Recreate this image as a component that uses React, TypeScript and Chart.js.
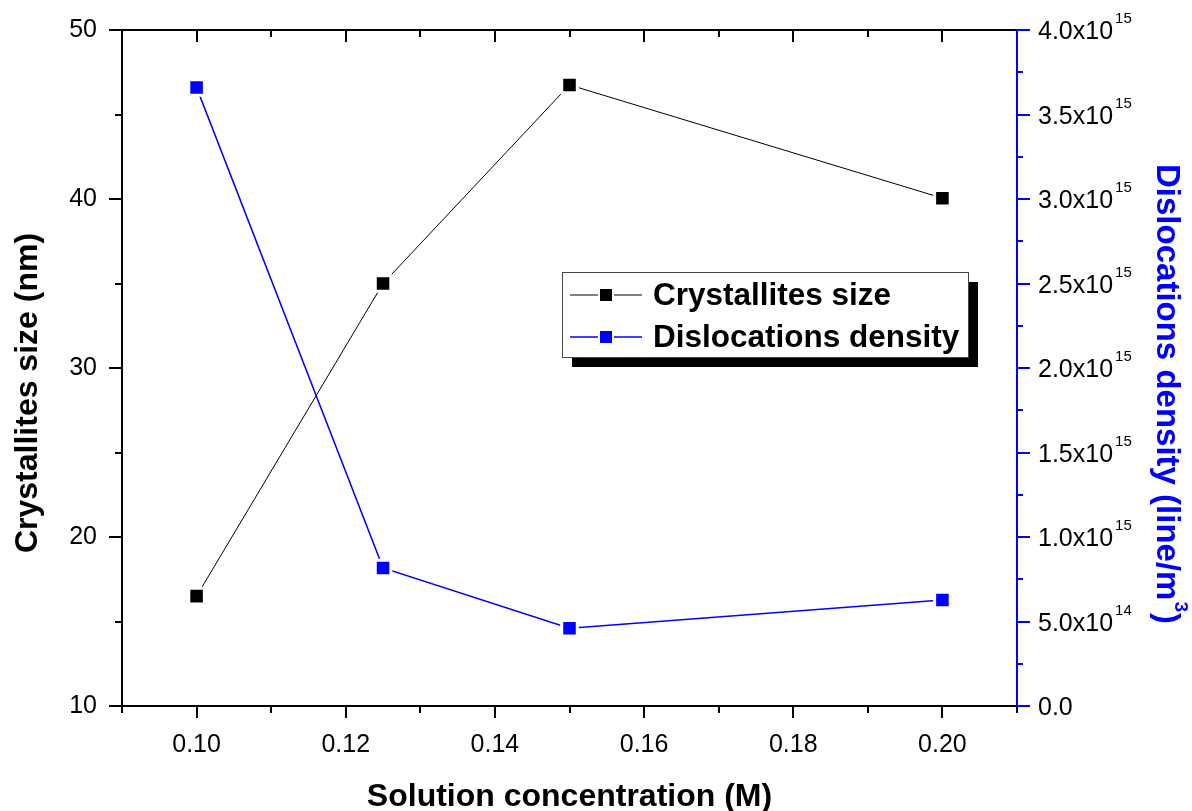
import React, { useEffect, useRef } from 'react';
import { Chart, registerables } from 'chart.js';

Chart.register(...registerables);

const concentrations = [0.10, 0.125, 0.15, 0.20];
const crystalliteSize = [16.5, 35.0, 46.75, 40.05];
const dislocationDensity = [3.66e15, 0.817e15, 0.46e15, 0.627e15];
const seriesLabels = ['Crystallites size', 'Dislocations density'];
const seriesColors = ['#000000', '#0000ff'];
const xTitle = 'Solution concentration (M)';
const yTitle = 'Crystallites size (nm)';
const y1TitleMain = 'Dislocations density (line/m';
const y1TitleSup = '3';
const y1TitleEnd = ')';

const FONT = "'Liberation Sans', Arial, Helvetica, sans-serif";

function fmtSci(v: number): [string, string] {
  if (Math.abs(v) < 1) return ['0.0', ''];
  const e = Math.floor(Math.log10(v) + 1e-9);
  const m = v / Math.pow(10, e);
  return [m.toFixed(1) + 'x10', String(e)];
}

const decorPlugin = {
  id: 'decor',
  afterDraw(chart: any) {
    const { ctx, chartArea } = chart;
    const { left, right, top, bottom } = chartArea;
    const x = chart.scales.x;
    const y = chart.scales.y;
    const y1 = chart.scales.y1;
    ctx.save();
    ctx.lineCap = 'butt';
    ctx.lineWidth = 2;
    ctx.strokeStyle = '#000';
    x.ticks.forEach((t: any) => {
      const px = Math.round(x.getPixelForValue(t.value));
      const major = Math.round(t.value * 100) % 2 === 0;
      const len = major ? 12 : 7;
      ctx.beginPath();
      ctx.moveTo(px, bottom);
      ctx.lineTo(px, bottom + len);
      ctx.moveTo(px, top);
      ctx.lineTo(px, top + len);
      ctx.stroke();
    });
    y.ticks.forEach((t: any) => {
      const py = Math.round(y.getPixelForValue(t.value));
      const major = Math.round(t.value) % 10 === 0;
      const len = major ? 13 : 7;
      ctx.beginPath();
      ctx.moveTo(left - len, py);
      ctx.lineTo(left, py);
      ctx.stroke();
    });
    ctx.beginPath();
    ctx.moveTo(left, bottom);
    ctx.lineTo(left, top);
    ctx.lineTo(right, top);
    ctx.moveTo(left - 1, bottom);
    ctx.lineTo(right, bottom);
    ctx.stroke();
    ctx.strokeStyle = '#0000ff';
    ctx.beginPath();
    ctx.moveTo(right, top - 1);
    ctx.lineTo(right, bottom + 1);
    ctx.stroke();
    y1.ticks.forEach((t: any) => {
      const py = Math.round(y1.getPixelForValue(t.value));
      const major = Math.round(t.value / 2.5e14) % 2 === 0;
      const len = major ? 13 : 6;
      ctx.strokeStyle = '#0000ff';
      ctx.beginPath();
      ctx.moveTo(right, py);
      ctx.lineTo(right + len, py);
      ctx.stroke();
      if (major) {
        const [main, sup] = fmtSci(t.value);
        ctx.fillStyle = '#000';
        ctx.textBaseline = 'middle';
        ctx.textAlign = 'left';
        ctx.font = `25px ${FONT}`;
        const lx = right + 21;
        ctx.fillText(main, lx, py + 2);
        if (sup) {
          const w = ctx.measureText(main).width;
          ctx.font = `15px ${FONT}`;
          ctx.fillText(sup, lx + w + 2, py - 11);
        }
      }
    });

    ctx.fillStyle = '#000';
    ctx.font = `bold 32px ${FONT}`;
    ctx.textAlign = 'center';
    ctx.textBaseline = 'middle';
    ctx.fillText(xTitle, (left + right) / 2, 797);

    ctx.save();
    ctx.translate(28, 393);
    ctx.rotate(-Math.PI / 2);
    ctx.fillText(yTitle, 0, 0);
    ctx.restore();

    ctx.save();
    ctx.translate(1166, 394);
    ctx.rotate(Math.PI / 2);
    ctx.fillStyle = '#0000ff';
    ctx.font = `bold 33px ${FONT}`;
    const w1 = ctx.measureText(y1TitleMain).width;
    ctx.font = `bold 19px ${FONT}`;
    const w2 = ctx.measureText(y1TitleSup).width;
    ctx.font = `bold 33px ${FONT}`;
    const w3 = ctx.measureText(y1TitleEnd).width;
    const total = w1 + w2 + 2 + w3;
    let cx = -total / 2;
    ctx.textAlign = 'left';
    ctx.fillText(y1TitleMain, cx, 0);
    cx += w1 + 1;
    ctx.font = `bold 19px ${FONT}`;
    ctx.fillText(y1TitleSup, cx, -14);
    cx += w2 + 1;
    ctx.font = `bold 33px ${FONT}`;
    ctx.fillText(y1TitleEnd, cx, 0);
    ctx.restore();

    const bx = 562, by = 272, bw = 406, bh = 85;
    ctx.fillStyle = '#000';
    ctx.fillRect(bx + 10, by + 10, bw, bh);
    ctx.fillStyle = '#fff';
    ctx.fillRect(bx, by, bw, bh);
    ctx.strokeStyle = '#444';
    ctx.lineWidth = 1;
    ctx.strokeRect(bx + 0.5, by + 0.5, bw, bh);
    const rows = [295, 337];
    seriesLabels.forEach((lab, i) => {
      const ry = rows[i];
      ctx.strokeStyle = seriesColors[i];
      ctx.lineWidth = i === 0 ? 1 : 1.5;
      ctx.beginPath();
      ctx.moveTo(570, ry);
      ctx.lineTo(598, ry);
      ctx.moveTo(614, ry);
      ctx.lineTo(642, ry);
      ctx.stroke();
      ctx.fillStyle = seriesColors[i];
      ctx.fillRect(600, ry - 6, 12, 12);
      ctx.fillStyle = '#000';
      ctx.font = `bold 31.5px ${FONT}`;
      ctx.textAlign = 'left';
      ctx.textBaseline = 'middle';
      ctx.fillText(lab, 653, ry + 1);
    });
    ctx.restore();
  },
};

export default function App() {
  const ref = useRef<HTMLCanvasElement | null>(null);
  useEffect(() => {
    document.body.style.margin = '0';
    const canvas = ref.current;
    if (!canvas) return;
    const chart = new Chart(canvas, {
      type: 'line',
      data: {
        datasets: [
          {
            label: seriesLabels[0],
            data: concentrations.map((c, i) => ({ x: c, y: crystalliteSize[i] })),
            yAxisID: 'y',
            borderColor: seriesColors[0],
            backgroundColor: seriesColors[0],
            borderWidth: 1,
            pointStyle: 'rect',
            pointRadius: 11,
            pointBorderWidth: 3,
            pointBorderColor: '#ffffff',
            pointBackgroundColor: seriesColors[0],
            tension: 0,
          },
          {
            label: seriesLabels[1],
            data: concentrations.map((c, i) => ({ x: c, y: dislocationDensity[i] })),
            yAxisID: 'y1',
            borderColor: seriesColors[1],
            backgroundColor: seriesColors[1],
            borderWidth: 1.6,
            pointStyle: 'rect',
            pointRadius: 11,
            pointBorderWidth: 3,
            pointBorderColor: '#ffffff',
            pointBackgroundColor: seriesColors[1],
            tension: 0,
          },
        ],
      },
      options: {
        responsive: false,
        animation: false,
        layout: { padding: { top: 30, right: 0, bottom: 0, left: 0 } },
        plugins: { legend: { display: false }, tooltip: { enabled: false }, title: { display: false } },
        scales: {
          x: {
            type: 'linear',
            position: 'bottom',
            min: 0.09,
            max: 0.21,
            grid: { display: false, drawTicks: false },
            border: { display: false },
            ticks: {
              stepSize: 0.01,
              autoSkip: false,
              maxRotation: 0,
              padding: 24,
              color: '#000',
              font: { family: FONT, size: 25 },
              callback: (v: any) => {
                const n = Math.round(Number(v) * 100);
                return n % 2 === 0 ? (n / 100).toFixed(2) : '';
              },
            },
            afterFit: (s: any) => { s.height = 105; s.paddingLeft = 0; s.paddingRight = 0; },
          },
          y: {
            type: 'linear',
            position: 'left',
            min: 10,
            max: 50,
            grid: { display: false, drawTicks: false },
            border: { display: false },
            ticks: {
              stepSize: 5,
              autoSkip: false,
              padding: 25,
              color: '#000',
              font: { family: FONT, size: 25 },
              callback: (v: any) => (Math.round(Number(v)) % 10 === 0 ? String(Math.round(Number(v))) : ''),
            },
            afterFit: (s: any) => { s.width = 122; s.paddingTop = 0; s.paddingBottom = 0; },
          },
          y1: {
            type: 'linear',
            position: 'right',
            min: 0,
            max: 4e15,
            grid: { display: false, drawTicks: false },
            border: { display: false },
            ticks: { stepSize: 2.5e14, autoSkip: false, display: false },
            afterFit: (s: any) => { s.width = 175; s.paddingTop = 0; s.paddingBottom = 0; },
          },
        },
      },
      plugins: [decorPlugin],
    });
    return () => chart.destroy();
  }, []);
  return (
    <div style={{ width: 1192, height: 811, background: '#fff' }}>
      <canvas ref={ref} width={1192} height={811} style={{ display: 'block' }} />
    </div>
  );
}
